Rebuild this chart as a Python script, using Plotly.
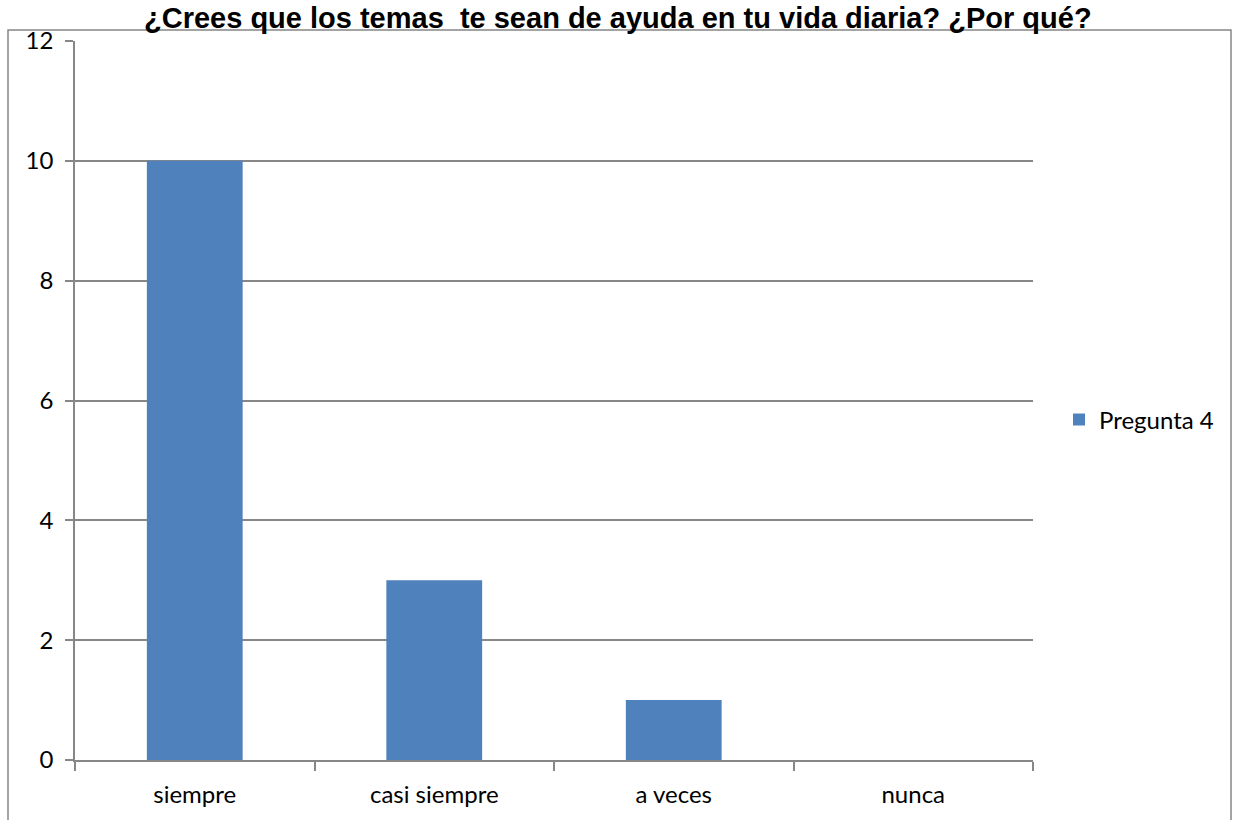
import plotly.graph_objects as go

categories = ["siempre", "casi siempre", "a veces", "nunca"]
values = [10, 3, 1, 0]
series_name = "Pregunta 4"
title_text = "¿Crees que los temas  te sean de ayuda en tu vida diaria? ¿Por qué?"
y_ticks = [0, 2, 4, 6, 8, 10, 12]

L, R, T, B = 75, 200, 41, 60
W, H = 1233, 820
pw, ph = W - L - R, H - T - B

def px(x):
    return (x - L) / pw

def py(y):
    return (H - B - y) / ph

GRAY = "#878787"
FONT = "Lato, Open Sans, sans-serif"

fig = go.Figure()
fig.add_trace(go.Bar(x=categories, y=values, name=series_name,
                     marker=dict(color="#4F81BD", line=dict(width=0)), width=0.4))

fig.update_layout(
    width=W, height=H,
    margin=dict(l=L, r=R, t=T, b=B),
    paper_bgcolor="white", plot_bgcolor="white",
    font=dict(family=FONT, size=24, color="black"),
    showlegend=True,
    legend=dict(x=px(1059), y=py(420), xanchor="left", yanchor="middle",
                font=dict(size=24), itemwidth=30),
)
fig.update_xaxes(showline=True, linecolor=GRAY, linewidth=1.5,
                 ticks="outside", tickson="boundaries", ticklen=9, tickcolor=GRAY,
                 tickwidth=1.5, showgrid=False, tickfont=dict(size=24),
                 ticklabelstandoff=12)
fig.update_yaxes(range=[0, 12], tickvals=y_ticks, showline=True, linecolor=GRAY,
                 linewidth=1.5, ticks="outside", ticklen=8, tickcolor=GRAY,
                 tickwidth=1.5, showgrid=True, gridcolor=GRAY, gridwidth=1.5,
                 zeroline=False, tickfont=dict(size=24), ticklabelstandoff=7)

fig.add_shape(type="rect", xref="paper", yref="paper",
              x0=px(8), x1=px(1231), y0=py(830), y1=py(30),
              line=dict(color=GRAY, width=1.5), fillcolor="rgba(0,0,0,0)", layer="below")

fig.add_annotation(text="<b>" + title_text + "</b>", xref="paper", yref="paper",
                   x=px(618), y=py(0), xanchor="center", yanchor="top",
                   showarrow=False,
                   font=dict(family="Liberation Sans, Arial", size=29, color="black"))

fig.write_html("out.html", config={"displayModeBar": False},
               post_script="document.body.style.margin='0';")
